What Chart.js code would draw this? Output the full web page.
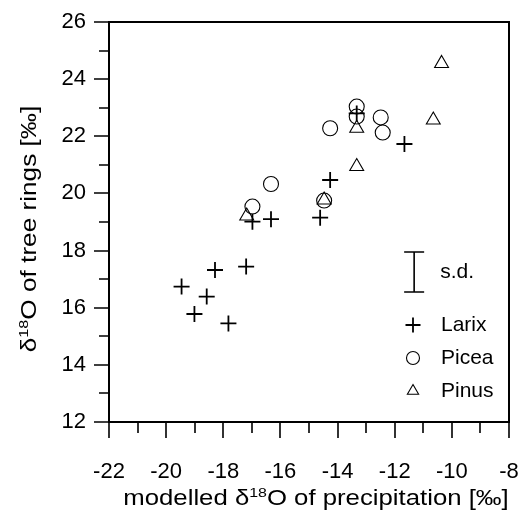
<!DOCTYPE html>
<html>
<head>
<meta charset="utf-8">
<script src="https://cdn.jsdelivr.net/npm/chart.js@4"></script>
<style>
    html, body { margin: 0; padding: 0; background: #fff; }
    #wrap { width: 521px; height: 511px; position: relative; }
</style>
</head>
<body>
<div id="wrap"><canvas id="isoChart"></canvas></div>
<script>
// modelled d18O of precipitation (x) vs d18O of tree rings (y)
const larixX = [-19.46, -19.01, -18.58, -18.29, -17.82, -17.20, -16.98, -16.33, -14.61, -14.26, -13.33, -11.66];
const larixY = [16.74, 15.78, 16.39, 17.32, 15.45, 17.44, 19.01, 19.10, 19.15, 20.47, 22.80, 21.73];

const piceaX = [-16.98, -16.33, -14.47, -14.26, -13.33, -13.33, -12.49, -12.42];
const piceaY = [19.54, 20.33, 19.75, 22.28, 23.04, 22.69, 22.66, 22.13];

const pinusX = [-17.18, -14.47, -13.33, -13.33, -10.65, -10.36];
const pinusY = [19.21, 19.77, 22.28, 20.94, 22.57, 24.55];

const xTicks = [-22, -20, -18, -16, -14, -12, -10, -8];
const yTicks = [12, 14, 16, 18, 20, 22, 24, 26];

// standard deviation bar
const sdX = -11.32;
const sdLow = 16.55;
const sdHigh = 17.95;

const FONT = '"Liberation Sans", Arial, Helvetica, sans-serif';

function toPoints(xs, ys) {
    return xs.map((x, i) => ({ x: x, y: ys[i] }));
}

function drawRich(ctx, parts, size) {
    // parts: [text, isSuperscript], centred on the origin
    let total = 0;
    parts.forEach(([t, sup]) => {
        ctx.font = (sup ? size * 0.62 : size) + 'px ' + FONT;
        total += ctx.measureText(t).width;
    });
    let cx = -total / 2;
    parts.forEach(([t, sup]) => {
        ctx.font = (sup ? size * 0.62 : size) + 'px ' + FONT;
        ctx.fillText(t, cx, sup ? -size * 0.38 : 0);
        cx += ctx.measureText(t).width;
    });
}

const framePlugin = {
    id: 'frame',
    afterDraw(chart) {
        const { ctx, chartArea: a, scales } = chart;
        const xs = scales.x;
        const ys = scales.y;
        ctx.save();
        ctx.strokeStyle = '#000';
        ctx.fillStyle = '#000';

        // box
        ctx.lineWidth = 2;
        ctx.strokeRect(a.left, a.top, a.right - a.left, a.bottom - a.top);

        // ticks, major long and minor short, pointing outwards
        ctx.lineWidth = 1.6;
        ctx.beginPath();
        for (let v = -22; v <= -8; v++) {
            const px = Math.round(xs.getPixelForValue(v));
            const len = v % 2 === 0 ? 16 : 11;
            ctx.moveTo(px, a.bottom);
            ctx.lineTo(px, a.bottom + len);
        }
        for (let v = 12; v <= 26; v++) {
            const py = Math.round(ys.getPixelForValue(v));
            const len = v % 2 === 0 ? 15 : 10;
            ctx.moveTo(a.left, py);
            ctx.lineTo(a.left - len, py);
        }
        ctx.stroke();

        // s.d. bar
        const bx = xs.getPixelForValue(sdX);
        const bt = ys.getPixelForValue(sdHigh);
        const bb = ys.getPixelForValue(sdLow);
        ctx.lineWidth = 1.6;
        ctx.beginPath();
        ctx.moveTo(bx, bt);
        ctx.lineTo(bx, bb);
        ctx.moveTo(bx - 10, bt);
        ctx.lineTo(bx + 10, bt);
        ctx.moveTo(bx - 10, bb);
        ctx.lineTo(bx + 10, bb);
        ctx.stroke();
        ctx.font = '21px ' + FONT;
        ctx.textAlign = 'left';
        ctx.textBaseline = 'middle';
        ctx.fillText('s.d.', bx + 26, (bt + bb) / 2);

        // legend
        const lx = 413;
        let ly = 325;
        chart.data.datasets.forEach((ds) => {
            ctx.fillStyle = 'rgba(0,0,0,0)';
            ctx.lineWidth = ds.pointStyle === 'cross' ? 1.8 : 1.1;
            Chart.helpers.drawPoint(ctx, {
                pointStyle: ds.pointStyle,
                radius: ds.pointStyle === 'cross' ? 7.5 : 6.5,
                rotation: 0,
                borderWidth: 1,
            }, lx, ly);
            ctx.fillStyle = '#000';
            ctx.font = '21px ' + FONT;
            ctx.fillText(ds.label, 441, ly);
            ly += 33;
        });

        // axis titles with superscripts (the original lettering is wider)
        ctx.textAlign = 'left';
        ctx.textBaseline = 'alphabetic';
        ctx.save();
        ctx.translate(316, 505);
        ctx.scale(1.17, 1);
        drawRich(ctx, [['modelled \u03b4', false], ['18', true], ['O of precipitation [\u2030]', false]], 22);
        ctx.restore();

        ctx.save();
        ctx.translate(36, 229);
        ctx.rotate(-Math.PI / 2);
        ctx.scale(1.19, 1);
        drawRich(ctx, [['\u03b4', false], ['18', true], ['O of tree rings [\u2030]', false]], 22);
        ctx.restore();
        ctx.restore();
    },
};

const ctx = document.getElementById('isoChart').getContext('2d');

new Chart(ctx, {
    type: 'scatter',
    data: {
        datasets: [
            {
                label: 'Larix',
                data: toPoints(larixX, larixY),
                pointStyle: 'cross',
                pointRadius: 8,
                borderColor: '#000',
                backgroundColor: 'rgba(0,0,0,0)',
                borderWidth: 1.8,
            },
            {
                label: 'Picea',
                data: toPoints(piceaX, piceaY),
                pointStyle: 'circle',
                pointRadius: 7.5,
                borderColor: '#000',
                backgroundColor: 'rgba(0,0,0,0)',
                borderWidth: 1.1,
            },
            {
                label: 'Pinus',
                data: toPoints(pinusX, pinusY),
                pointStyle: 'triangle',
                pointRadius: 8,
                borderColor: '#000',
                backgroundColor: 'rgba(0,0,0,0)',
                borderWidth: 1.1,
            },
        ],
    },
    options: {
        responsive: true,
        maintainAspectRatio: false,
        animation: false,
        events: [],
        layout: {
            padding: { top: 22, right: 12, bottom: 0, left: 0 },
        },
        plugins: {
            legend: { display: false },
            tooltip: { enabled: false },
        },
        scales: {
            x: {
                type: 'linear',
                position: 'bottom',
                min: -22,
                max: -8,
                border: { display: false },
                grid: {
                    drawOnChartArea: false,
                    drawTicks: true,
                    tickLength: 16,
                    tickColor: 'rgba(0,0,0,0)',
                },
                ticks: {
                    stepSize: 1,
                    autoSkip: false,
                    maxRotation: 0,
                    padding: 21,
                    color: '#000',
                    font: { family: FONT, size: 22 },
                    callback(value) {
                        return xTicks.includes(value) ? String(value) : '';
                    },
                },
                afterFit(scale) {
                    scale.height = 89;
                    scale.paddingLeft = 0;
                    scale.paddingRight = 0;
                },
            },
            y: {
                type: 'linear',
                min: 12,
                max: 26,
                border: { display: false },
                grid: {
                    drawOnChartArea: false,
                    drawTicks: true,
                    tickLength: 15,
                    tickColor: 'rgba(0,0,0,0)',
                },
                ticks: {
                    stepSize: 1,
                    autoSkip: false,
                    padding: 8,
                    color: '#000',
                    font: { family: FONT, size: 22 },
                    callback(value) {
                        return yTicks.includes(value) ? String(value) : '';
                    },
                },
                afterFit(scale) {
                    scale.width = 109;
                    scale.paddingTop = 0;
                    scale.paddingBottom = 0;
                },
            },
        },
    },
    plugins: [framePlugin],
});
</script>
</body>
</html>
